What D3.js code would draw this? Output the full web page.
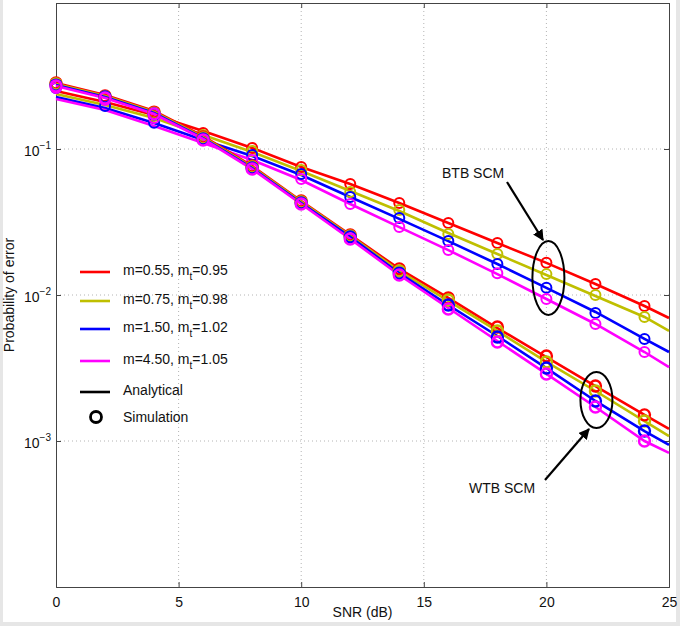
<!DOCTYPE html>
<html>
<head>
<meta charset="utf-8">
<script src="https://cdn.jsdelivr.net/npm/d3@7"></script>
<style>
body { margin: 0; background: #e6e6e6; }
svg text { font-family: "Liberation Sans", Arial, sans-serif; fill: #111; }
</style>
</head>
<body>
<svg id="chart" width="680" height="626"></svg>
<script>
// data
var snrSim = [0, 2, 4, 6, 8, 10, 12, 14, 16, 18, 20, 22, 24]
var snrAna = [0, 2, 4, 6, 8, 10, 12, 14, 16, 18, 20, 22, 24, 25]

var seriesNames = ["m=0.55, m|t|=0.95", "m=0.75, m|t|=0.98", "m=1.50, m|t|=1.02", "m=4.50, m|t|=1.05"]
var seriesColors = ["#ff0000", "#bfbf00", "#0000ff", "#ff00ff"]

// BTB SCM, analytical
var btbAna055 = [0.2495, 0.2099, 0.1709, 0.1328, 0.1016, 0.0753, 0.0576, 0.0427, 0.0311, 0.0227, 0.0166, 0.0119, 0.00841, 0.00696]
var btbAna075 = [0.2379, 0.2001, 0.1631, 0.1247, 0.0954, 0.0707, 0.0516, 0.0376, 0.0266, 0.0191, 0.0137, 0.00984, 0.00707, 0.00567]
var btbAna150 = [0.2271, 0.1909, 0.1507, 0.1152, 0.0896, 0.0664, 0.0469, 0.0332, 0.0234, 0.0163, 0.0112, 0.00765, 0.00500, 0.00407]
var btbAna450 = [0.2200, 0.1849, 0.1437, 0.1099, 0.0841, 0.0613, 0.0420, 0.0292, 0.0203, 0.0139, 0.00939, 0.00633, 0.00407, 0.00321]
// WTB SCM, analytical
var wtbAna055 = [0.2832, 0.2344, 0.1820, 0.1227, 0.0765, 0.0440, 0.0258, 0.0151, 0.00954, 0.00594, 0.00376, 0.00238, 0.00151, 0.00121]
var wtbAna075 = [0.2787, 0.2307, 0.1792, 0.1208, 0.0753, 0.0434, 0.0254, 0.0146, 0.00910, 0.00567, 0.00348, 0.00220, 0.00137, 0.00108]
var wtbAna150 = [0.2744, 0.2271, 0.1764, 0.1189, 0.0741, 0.0427, 0.0250, 0.0141, 0.00854, 0.00524, 0.00316, 0.00188, 0.00117, 0.00094]
var wtbAna450 = [0.2700, 0.2235, 0.1736, 0.1171, 0.0729, 0.0420, 0.0242, 0.0137, 0.00815, 0.00484, 0.00288, 0.00171, 0.00100, 0.00083]

// BTB SCM, simulation
var btbSim055 = [0.270, 0.2235, 0.176, 0.1288, 0.1016, 0.0753, 0.0576, 0.0427, 0.0311, 0.0227, 0.0166, 0.0119, 0.00841]
var btbSim075 = [0.266, 0.2166, 0.168, 0.1247, 0.0969, 0.0718, 0.0508, 0.0382, 0.0262, 0.0191, 0.0139, 0.0100, 0.00707]
var btbSim150 = [0.262, 0.197, 0.151, 0.1189, 0.0910, 0.0674, 0.0469, 0.0337, 0.0234, 0.0163, 0.0112, 0.00753, 0.00500]
var btbSim450 = [0.262, 0.2166, 0.163, 0.1152, 0.0841, 0.0623, 0.0420, 0.0292, 0.0203, 0.0141, 0.00939, 0.00633, 0.00407]
// WTB SCM, simulation
var wtbSim055 = [0.283, 0.231, 0.179, 0.1208, 0.0765, 0.0440, 0.0258, 0.0151, 0.00954, 0.00604, 0.00382, 0.00238, 0.00151]
var wtbSim075 = [0.279, 0.227, 0.176, 0.1189, 0.0753, 0.0434, 0.0254, 0.0146, 0.00924, 0.00567, 0.00348, 0.00220, 0.00137]
var wtbSim150 = [0.274, 0.227, 0.174, 0.1171, 0.0741, 0.0427, 0.0250, 0.0141, 0.00854, 0.00516, 0.00316, 0.00188, 0.00117]
var wtbSim450 = [0.270, 0.2235, 0.174, 0.1152, 0.0729, 0.0420, 0.0242, 0.0137, 0.00802, 0.00477, 0.00288, 0.00171, 0.00100]

var xTicks = [0, 5, 10, 15, 20, 25]
var yTicks = [1e-1, 1e-2, 1e-3]
var yTickExp = ["\u22121", "\u22122", "\u22123"]

var btbAna = [btbAna055, btbAna075, btbAna150, btbAna450]
var wtbAna = [wtbAna055, wtbAna075, wtbAna150, wtbAna450]
var btbSim = [btbSim055, btbSim075, btbSim150, btbSim450]
var wtbSim = [wtbSim055, wtbSim075, wtbSim150, wtbSim450]

// layout
var plot = {left: 56, right: 669, top: 3, bottom: 587}
var fs = "14px"

var svg = d3.select("#chart")
svg.append("rect").attr("x", 3).attr("y", 0).attr("width", 673).attr("height", 622).attr("fill", "#fff")

var x = d3.scaleLinear().domain([0, 25]).range([plot.left, plot.right])
var y = d3.scaleLog().domain([1e-4, 1]).range([plot.bottom, plot.top])

// grid
var grid = svg.append("g").attr("stroke", "#b4b4b4").attr("stroke-width", 1).attr("stroke-dasharray", "1,3")
grid.selectAll(".gx").data(xTicks.slice(1, -1)).enter().append("line")
    .attr("x1", d => x(d)).attr("x2", d => x(d))
    .attr("y1", plot.top).attr("y2", plot.bottom)
grid.selectAll(".gy").data(yTicks).enter().append("line")
    .attr("x1", plot.left).attr("x2", plot.right)
    .attr("y1", d => y(d)).attr("y2", d => y(d))

// axes, ticks inside like matlab
var axBottom = svg.append("g").attr("transform", "translate(0," + plot.bottom + ")")
    .call(d3.axisBottom(x).tickValues(xTicks).tickSize(-5).tickPadding(10).tickFormat(d3.format("d")))
var axTop = svg.append("g").attr("transform", "translate(0," + plot.top + ")")
    .call(d3.axisTop(x).tickValues(xTicks).tickSize(-5).tickFormat(""))
var axLeft = svg.append("g").attr("transform", "translate(" + plot.left + ",0)")
    .call(d3.axisLeft(y).tickValues(yTicks).tickSize(-5).tickFormat(""))
var axRight = svg.append("g").attr("transform", "translate(" + plot.right + ",0)")
    .call(d3.axisRight(y).tickValues(yTicks).tickSize(-5).tickFormat(""))

;[axBottom, axTop, axLeft, axRight].forEach(function(a){
    a.select(".domain").attr("stroke", "#444")
    a.selectAll(".tick line").attr("stroke", "#444")
})
axBottom.selectAll(".tick text").style("font-size", fs).attr("fill", "#111")

// y labels as 10^-n
axLeft.selectAll(".tick").each(function(d, i){
    var t = d3.select(this).select("text").text("").style("font-size", fs).attr("fill", "#111")
        .attr("x", -5).attr("dy", "0.45em").attr("text-anchor", "end")
    t.append("tspan").text("10")
    t.append("tspan").attr("dy", -7).style("font-size", "10px").text(yTickExp[i])
})

svg.append("text").attr("x", (plot.left + plot.right) / 2).attr("y", 617)
    .attr("text-anchor", "middle").style("font-size", fs).text("SNR (dB)")
svg.append("text").attr("transform", "translate(14," + (plot.top + plot.bottom) / 2 + ") rotate(-90)")
    .attr("text-anchor", "middle").style("font-size", fs).text("Probability of error")

// curves
var line = d3.line().x(d => x(d[0])).y(d => y(d[1]))
var curves = svg.append("g").attr("fill", "none").attr("stroke-width", 2.6)

function drawGroup(ana, sim, r, sw){
    ana.forEach(function(vals, i){
        curves.append("path")
            .attr("d", line(d3.zip(snrAna, vals)))
            .attr("stroke", seriesColors[i])
    })
    sim.forEach(function(vals, i){
        curves.append("g").selectAll("circle")
            .data(d3.zip(snrSim, vals))
            .enter().append("circle")
            .attr("cx", d => x(d[0])).attr("cy", d => y(d[1]))
            .attr("r", r)
            .attr("stroke", seriesColors[i]).attr("stroke-width", sw)
    })
}
drawGroup(btbAna, btbSim, 5, 2)
drawGroup(wtbAna, wtbSim, 5.5, 2.4)

// legend
var legendY = [272, 301, 329, 361, 392]
var leg = svg.append("g")
seriesNames.concat(["Analytical"]).forEach(function(name, i){
    leg.append("line").attr("x1", 80).attr("x2", 110).attr("y1", legendY[i]).attr("y2", legendY[i])
        .attr("stroke", i < 4 ? seriesColors[i] : "#000").attr("stroke-width", 2.6)
    var parts = name.split("|")
    var t = leg.append("text").attr("x", 123).attr("y", legendY[i] + 3).style("font-size", fs)
    t.append("tspan").text(parts[0])
    if (parts.length > 1){
        t.append("tspan").attr("dy", 5).style("font-size", "10px").text(parts[1])
        t.append("tspan").attr("dy", -5).text(parts[2])
    }
})
leg.append("circle").attr("cx", 96).attr("cy", 417).attr("r", 5.5)
    .attr("fill", "none").attr("stroke", "#000").attr("stroke-width", 2.8)
leg.append("text").attr("x", 123).attr("y", 422).style("font-size", fs).text("Simulation")

// annotations
var defs = svg.append("defs")
defs.append("marker").attr("id", "arr").attr("viewBox", "0 0 10 10")
    .attr("refX", 9).attr("refY", 5).attr("markerWidth", 5).attr("markerHeight", 5)
    .attr("orient", "auto").attr("markerUnits", "strokeWidth")
    .append("path").attr("d", "M0,0 L10,5 L0,10 z").attr("fill", "#000")

var ann = svg.append("g")
ann.append("text").attr("x", 442).attr("y", 178).style("font-size", fs).text("BTB SCM")
ann.append("line").attr("x1", 507).attr("y1", 182).attr("x2", 543).attr("y2", 240)
    .attr("stroke", "#000").attr("stroke-width", 2.2).attr("marker-end", "url(#arr)")
ann.append("ellipse").attr("cx", x(20) + 2).attr("cy", 278).attr("rx", 16).attr("ry", 37)
    .attr("fill", "none").attr("stroke", "#000").attr("stroke-width", 2)

ann.append("text").attr("x", 469).attr("y", 493).style("font-size", fs).text("WTB SCM")
ann.append("line").attr("x1", 545).attr("y1", 480).attr("x2", 589).attr("y2", 429)
    .attr("stroke", "#000").attr("stroke-width", 2.2).attr("marker-end", "url(#arr)")
ann.append("ellipse").attr("cx", x(22) + 1).attr("cy", 400).attr("rx", 16).attr("ry", 28)
    .attr("fill", "none").attr("stroke", "#000").attr("stroke-width", 2)
</script>
</body>
</html>
